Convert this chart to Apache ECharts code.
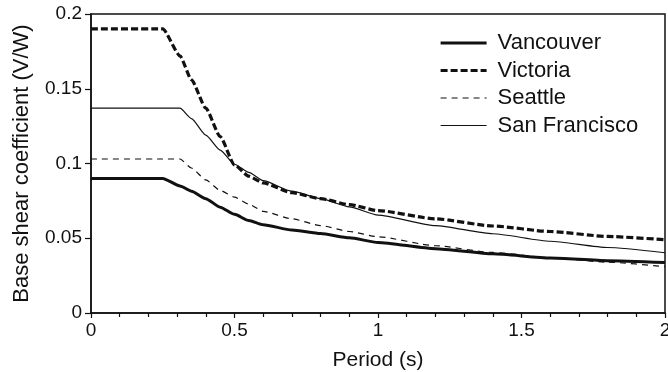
<!DOCTYPE html>
<html>
<head>
<meta charset="utf-8">
<script src="https://cdn.jsdelivr.net/npm/echarts@6/dist/echarts.min.js"></script>
<style>
  html, body { margin: 0; padding: 0; background: #fff; }
  #chart { width: 668px; height: 372px; }
</style>
</head>
<body>
<div id="chart"></div>
<script>
// period (s), shared by all four curves
const periods = [0, 0.25, 0.31, 0.35, 0.4, 0.45, 0.5, 0.55, 0.6, 0.7, 0.8, 0.9, 1.0, 1.2, 1.4, 1.6, 1.8, 2.0]

// base shear coefficient V/W
const vancouver = [0.09, 0.09, 0.085, 0.0815, 0.0765, 0.0708, 0.066, 0.0618, 0.059, 0.0555, 0.0531, 0.0503, 0.0472, 0.043, 0.0396, 0.0368, 0.035, 0.0337]
const victoria = [0.19, 0.19, 0.172, 0.156, 0.137, 0.118, 0.099, 0.0915, 0.087, 0.0805, 0.0765, 0.0725, 0.0685, 0.063, 0.0582, 0.0545, 0.0512, 0.049]
const seattle = [0.103, 0.103, 0.103, 0.097, 0.089, 0.082, 0.0775, 0.0728, 0.068, 0.063, 0.0585, 0.0545, 0.051, 0.045, 0.0405, 0.037, 0.034, 0.031]
const sanFrancisco = [0.137, 0.137, 0.137, 0.13, 0.119, 0.109, 0.0995, 0.094, 0.0885, 0.0815, 0.0765, 0.071, 0.0655, 0.0585, 0.053, 0.048, 0.0438, 0.0403]

const xTicks = [0, 0.5, 1, 1.5, 2]
const yTicks = [0, 0.05, 0.1, 0.15, 0.2]

const ink = '#111'
const font = 'Liberation Sans, Arial, sans-serif'

// line look per city: [width, dash]
const styles = {
  Vancouver: [3, 'solid'],
  Victoria: [3.2, [7, 3]],
  Seattle: [1.2, [6, 5]],
  'San Francisco': [1.2, 'solid'],
}

function pairs(values) {
  return periods.map((p, i) => [p, values[i]])
}

function lineSeries(name, values) {
  const [width, type] = styles[name]
  return {
    name,
    type: 'line',
    data: pairs(values),
    showSymbol: false,
    symbol: 'none',
    smooth: 0.2,
    smoothMonotone: 'x',
    lineStyle: { color: ink, width, type },
    itemStyle: { color: ink },
    emphasis: { disabled: true },
  }
}

const chart = echarts.init(document.getElementById('chart'))
chart.setOption({
  animation: false,
  backgroundColor: '#fff',
  grid: {
    left: 91, right: 3, top: 14, bottom: 59,
    outerBoundsMode: 'none',
    show: true, borderColor: ink, borderWidth: 1.5, backgroundColor: 'transparent',
  },
  legend: {
    orient: 'vertical',
    left: 439,
    top: 32,
    padding: 0,
    itemWidth: 46,
    itemHeight: 14,
    itemGap: 5.5,
    itemStyle: { opacity: 0 },
    textStyle: { color: ink, fontSize: 22, lineHeight: 22, fontFamily: font, padding: [0, 0, 0, 6] },
    data: Object.keys(styles).map(name => ({
      name,
      lineStyle: { color: ink, width: styles[name][0], type: styles[name][1] },
    })),
  },
  xAxis: {
    type: 'value',
    min: xTicks[0],
    max: xTicks[xTicks.length - 1],
    interval: 0.5,
    name: 'Period (s)',
    nameLocation: 'middle',
    nameGap: 37,
    nameTextStyle: { color: ink, fontSize: 21, fontFamily: font },
    axisLine: { lineStyle: { color: ink, width: 1.5 } },
    axisTick: { length: 5, lineStyle: { color: ink, width: 1.2 } },
    minorTick: { show: true, splitNumber: 5, length: 4, lineStyle: { color: ink, width: 1.2 } },
    axisLabel: { color: ink, fontSize: 19, fontFamily: font, margin: 8 },
    splitLine: { show: false },
  },
  yAxis: {
    type: 'value',
    min: yTicks[0],
    max: yTicks[yTicks.length - 1],
    interval: 0.05,
    name: 'Base shear coefficient (V/W)',
    nameLocation: 'middle',
    nameGap: 58,
    nameTextStyle: { color: ink, fontSize: 22, fontFamily: font },
    axisLine: { lineStyle: { color: ink, width: 1.5 } },
    axisTick: { length: 6, lineStyle: { color: ink, width: 1.2 } },
    axisLabel: { color: ink, fontSize: 19, fontFamily: font, margin: 9 },
    splitLine: { show: false },
  },
  series: [
    lineSeries('Vancouver', vancouver),
    lineSeries('Victoria', victoria),
    lineSeries('Seattle', seattle),
    lineSeries('San Francisco', sanFrancisco),
  ],
})
</script>
</body>
</html>
